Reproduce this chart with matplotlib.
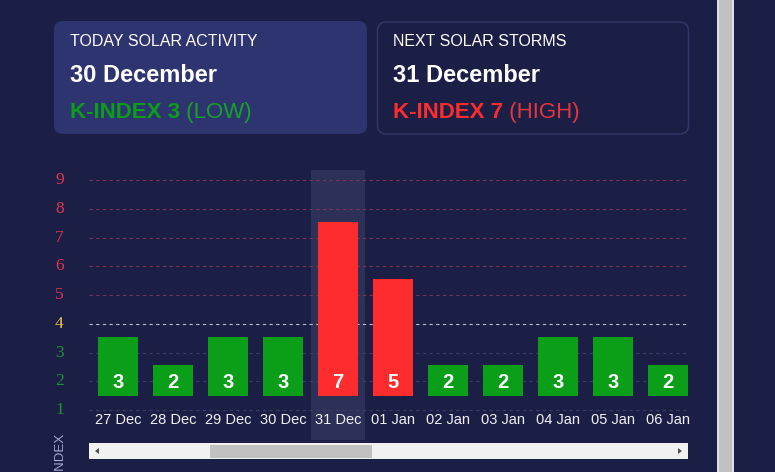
import matplotlib
matplotlib.use('Agg')
import matplotlib.pyplot as plt
from matplotlib.patches import FancyBboxPatch, Rectangle, Polygon
from matplotlib.transforms import blended_transform_factory
import numpy as np

plt.rcParams['font.family'] = ['Liberation Sans', 'DejaVu Sans']

# data
dates = ['27 Dec', '28 Dec', '29 Dec', '30 Dec', '31 Dec', '01 Jan',
         '02 Jan', '03 Jan', '04 Jan', '05 Jan', '06 Jan']
kindex = [3, 2, 3, 3, 7, 5, 2, 2, 3, 3, 2]
levels = [1, 2, 3, 4, 5, 6, 7, 8, 9]
highlight = '31 Dec'

today_title = 'TODAY SOLAR ACTIVITY'
today_date = '30 December'
today_k = 3
today_level = 'LOW'
storm_title = 'NEXT SOLAR STORMS'
storm_date = '31 December'
storm_k = 7
storm_level = 'HIGH'

BG = '#1c1f45'
GREEN = '#0a9e19'
RED = '#fe2c2c'


def level_color(k):
    if k >= 5:
        return RED
    if k == 4:
        return '#f2c14a'
    return GREEN


fig = plt.figure(figsize=(7.75, 4.72), dpi=100)
fig.patch.set_facecolor(BG)

# background layer in pixel coordinates
bg = fig.add_axes([0, 0, 1, 1])
bg.set_xlim(0, 775)
bg.set_ylim(472, 0)
bg.axis('off')

bg.add_patch(FancyBboxPatch((54, 21), 313, 113, boxstyle='round,pad=0,rounding_size=9',
                            fc='#2e3470', ec='none'))
bg.add_patch(FancyBboxPatch((377.5, 22), 311, 112, boxstyle='round,pad=0,rounding_size=9',
                            fc='none', ec='#32376a', lw=1))

renderer = fig.canvas.get_renderer()


def card(x, title, date, k, lvl_txt, color, color2):
    bg.text(x, 46, title, fontsize=11.5, color='white', va='baseline')
    bg.text(x, 82, date, fontsize=17, color='white', fontweight='bold', va='baseline')
    t = bg.text(x, 118, f'K-INDEX {k}', fontsize=16, color=color,
                fontweight='bold', va='baseline')
    w = t.get_window_extent(renderer).width
    bg.text(x + w, 118, f' ({lvl_txt})', fontsize=16, color=color2, va='baseline')


card(70.5, today_title, today_date, today_k, today_level, GREEN, '#14a424')
card(393, storm_title, storm_date, storm_k, storm_level, RED, '#e8343c')

# horizontal scrollbar
bg.add_patch(Rectangle((89, 443), 599, 16, fc='#f1f1f1', ec='none'))
bg.add_patch(Rectangle((210, 445), 162, 13, fc='#c1c1c1', ec='none'))
bg.add_patch(Polygon([[95, 451], [99, 448], [99, 454]], closed=True, fc='#505050', ec='none'))
bg.add_patch(Polygon([[682, 451], [678, 448], [678, 454]], closed=True, fc='#505050', ec='none'))

# vertical scrollbar on the right
bg.add_patch(Rectangle((716.5, 0), 17, 472, fc='#dedee8', ec='none'))
bg.add_patch(Rectangle((719.3, 0), 12.4, 472, fc='#c1c1c1', ec='none'))

# y axis title, clipped by the figure bottom like the reference
bg.text(59.5, 432, 'K-INDEX', rotation=90, ha='center', va='top',
        fontsize=9.5, color='#a5a8cc')

# chart
ax = fig.add_axes([89 / 775, 62 / 472, 599 / 775, 240 / 472])
ax.set_facecolor('none')
ax.set_xlim(-0.527, 10.364)
ax.set_ylim(1, 9.35)
for s in ax.spines.values():
    s.set_visible(False)

x = np.arange(len(dates))

# highlighted day column
hi = dates.index(highlight)
ax.bar(hi, 9.35 + 0.06, bottom=-0.06, width=0.98, color='#2d3158',
       zorder=0, clip_on=False)

for lvl in levels:
    if lvl >= 5:
        gc = '#7a3457'
    elif lvl == 4:
        gc = '#b9bccc'
    else:
        gc = '#3a3e66'
    ax.axhline(lvl, color=gc, lw=0.8, ls=(0, (3, 3)), zorder=1, clip_on=False)

bar_base = 1.5
tops = [k + 0.55 for k in kindex]
ax.bar(x, [t - bar_base for t in tops], bottom=bar_base, width=0.727,
       color=[level_color(k) for k in kindex], zorder=2)
for xi, k in zip(x, kindex):
    ax.text(xi, 1.77, str(k), ha='center', va='baseline', color='white',
            fontweight='bold', fontsize=14.5, zorder=3)

ax.set_xticks(x, dates)
ax.tick_params(axis='x', length=0, pad=2, labelcolor='#f0f0f5', labelsize=10.5)
ax.set_yticks([])

trans = blended_transform_factory(fig.transFigure, ax.transData)
for lvl in levels:
    ax.text(59.5 / 775, lvl, str(lvl), transform=trans, ha='center', va='center',
            family='Liberation Serif', fontsize=12.5, color=(
                '#e0344e' if lvl >= 5 else '#f2c14a' if lvl == 4 else '#1f8f3a'))

fig.savefig('out.png', dpi=100, facecolor=BG)
